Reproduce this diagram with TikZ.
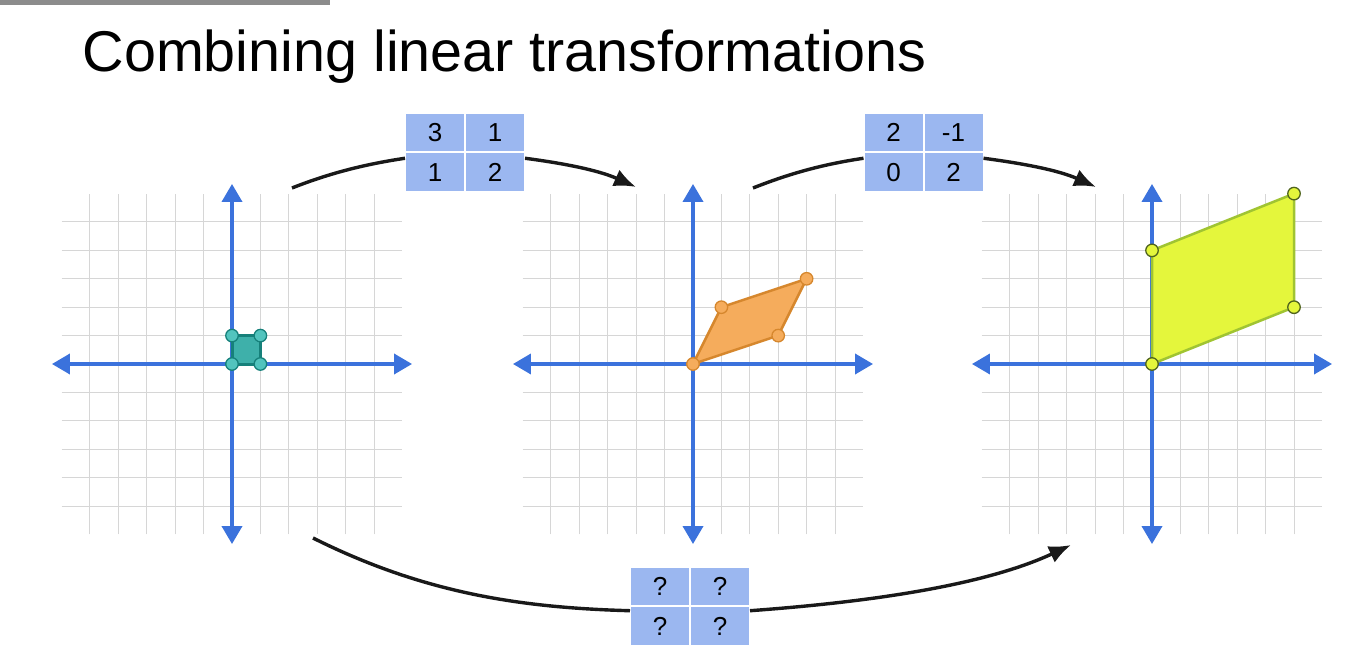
\documentclass[tikz,border=0pt]{standalone}
\usepackage{fontspec}
\setmainfont{Liberation Sans}
\usetikzlibrary{arrows.meta,positioning}
\definecolor{axisblue}{RGB}{59,114,220}
\definecolor{cellblue}{RGB}{155,183,240}
\definecolor{gridgray}{RGB}{214,214,214}
\definecolor{tealfill}{RGB}{62,176,170}
\definecolor{tealdot}{RGB}{82,196,190}
\definecolor{tealline}{RGB}{22,128,122}
\definecolor{orangefill}{RGB}{245,172,92}
\definecolor{orangeline}{RGB}{214,135,45}
\definecolor{limefill}{RGB}{228,246,60}
\definecolor{limeline}{RGB}{160,196,50}
\definecolor{limedot}{RGB}{80,100,30}
\definecolor{bargray}{RGB}{140,140,140}

\begin{document}
\begin{tikzpicture}[x=1pt,y=-1pt,>=Latex,
  cell/.style={fill=cellblue,draw=white,line width=2pt,inner sep=0pt,outer sep=0pt,
              minimum width=60pt,minimum height=39.5pt,font=\fontsize{26pt}{30pt}\selectfont},
  gridline/.style={gridgray,line width=1pt},
  axis/.style={axisblue,line width=3.6pt,
              {Triangle[length=18pt,width=20pt]}-{Triangle[length=18pt,width=20pt]}},
  link/.style={black!90,line width=3.4pt},
  linkend/.style={link,-{Latex[length=22pt,width=18pt]}},
  vertex/.style={circle,inner sep=0pt,minimum size=12.5pt,line width=1.3pt}]
  \useasboundingbox (0,0) rectangle (1371,663);
  \fill[bargray] (0,0) rectangle (330,5);
  \node[anchor=base west,font=\fontsize{57.5pt}{64pt}\selectfont] (title) at (79,72)
    {Combining linear transformations};
  % grids with axes
  \foreach \ox in {232,693,1152} {
    \begin{scope}[shift={(\ox,364)},x=28.4pt,y=28.4pt]
      \draw[gridline] (-6,-6) grid (6,6);
      \draw[axis] (-6.34,0) -- (6.34,0);
      \draw[axis] (0,-6.34) -- (0,6.34);
    \end{scope}}
  % unit square
  \begin{scope}[shift={(232,364)},x=28.4pt,y=28.4pt]
    \draw[tealline,fill=tealfill,line width=3pt] (0,0) rectangle (1,1);
    \node[vertex,fill=tealdot,draw=tealline](u1) at (0,0) {};
    \node[vertex,fill=tealdot,draw=tealline](u2) at (1,0) {};
    \node[vertex,fill=tealdot,draw=tealline](u3) at (1,1) {};
    \node[vertex,fill=tealdot,draw=tealline](u4) at (0,1) {};
  \end{scope}
  % first image
  \begin{scope}[shift={(693,364)},x=28.4pt,y=28.4pt]
    \draw[orangeline,fill=orangefill,line width=2.5pt,line join=round] (0,0) -- (3,1) -- (4,3) -- (1,2) -- cycle;
    \node[vertex,fill=orangefill,draw=orangeline](v1) at (0,0) {};
    \node[vertex,fill=orangefill,draw=orangeline](v2) at (3,1) {};
    \node[vertex,fill=orangefill,draw=orangeline](v3) at (4,3) {};
    \node[vertex,fill=orangefill,draw=orangeline](v4) at (1,2) {};
  \end{scope}
  % second image
  \begin{scope}[shift={(1152,364)},x=28.4pt,y=28.4pt]
    \draw[limeline,fill=limefill,line width=2.5pt,line join=round] (0,0) -- (5,2) -- (5,6) -- (0,4) -- cycle;
    \node[vertex,fill=limefill,draw=limedot](w1) at (0,0) {};
    \node[vertex,fill=limefill,draw=limedot](w2) at (5,2) {};
    \node[vertex,fill=limefill,draw=limedot](w3) at (5,6) {};
    \node[vertex,fill=limefill,draw=limedot](w4) at (0,4) {};
  \end{scope}
  % matrices
  \node[cell](a11) at (435,132.75) {3};
  \node[cell,right=0pt of a11](a12) {1};
  \node[cell,below=0pt of a11](a21) {1};
  \node[cell,right=0pt of a21](a22) {2};
  \node[cell](b11) at (893.5,132.75) {2};
  \node[cell,right=0pt of b11](b12) {-1};
  \node[cell,below=0pt of b11](b21) {0};
  \node[cell,right=0pt of b21](b22) {2};
  \node[cell](c11) at (660,586.5) {?};
  \node[cell,right=0pt of c11](c12) {?};
  \node[cell,below=0pt of c11](c21) {?};
  \node[cell,right=0pt of c21](c22) {?};
  % connectors
  \coordinate (s1) at (292,188);
  \coordinate (e1) at (636,187);
  \coordinate (s2) at (753,188);
  \coordinate (e2) at (1096,187);
  \coordinate (s3) at (313,538);
  \coordinate (e3) at (1071,545);
  \draw[link] (s1) .. controls +(38,-15) and +(-40,6) .. (a21.155);
  \draw[linkend] (a22.25) .. controls +(38,5) and +(-38,-17) .. (e1);
  \draw[link] (s2) .. controls +(38,-15) and +(-40,6) .. (b21.155);
  \draw[linkend] (b22.25) .. controls +(38,5) and +(-38,-17) .. (e2);
  \draw[link] (s3) .. controls +(110,55) and +(-110,-3) .. (c21.153);
  \draw[linkend] (c22.27) .. controls +(110,-8) and +(-90,42) .. (e3);
\end{tikzpicture}
\end{document}
